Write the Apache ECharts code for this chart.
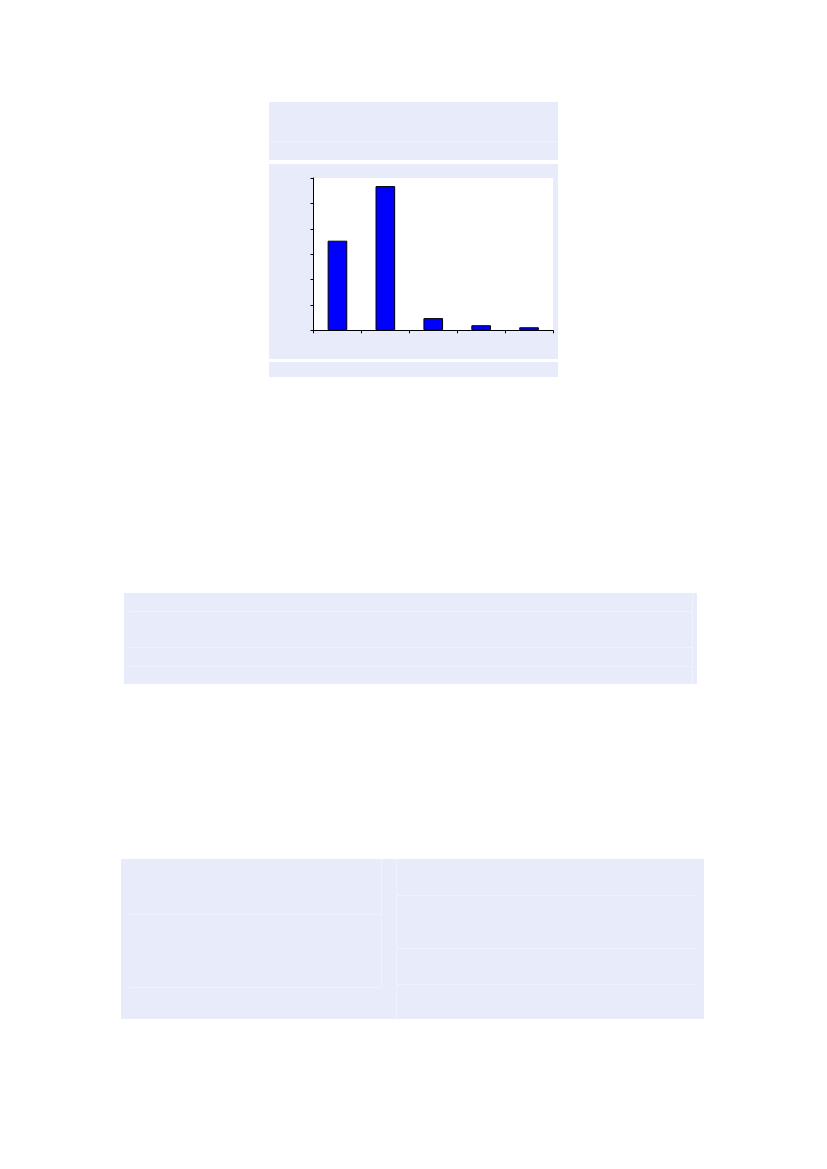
<!DOCTYPE html>
<html>
<head>
<meta charset="utf-8">
<script src="https://cdn.jsdelivr.net/npm/echarts@6/dist/echarts.min.js"></script>
<style>
html,body{margin:0;padding:0;background:#fff;}
#c{width:827px;height:1169px;}
</style>
</head>
<body>
<div id="c"></div>
<script>
// Data (no visible labels in the reference)
const categories = ['1', '2', '3', '4', '5'];
const values = [35.3, 56.8, 4.8, 2.0, 1.2];
const yTicks = [0, 10, 20, 30, 40, 50, 60];

const FILL = '#E8EBF9';
const LINE = '#EFF1FC';

function rect(x, y, w, h) {
  return { type: 'rect', shape: { x: x, y: y, width: w, height: h }, style: { fill: FILL }, z: -10, silent: true };
}
function line(x1, y1, x2, y2) {
  return { type: 'line', shape: { x1: x1, y1: y1, x2: x2, y2: y2 }, style: { stroke: LINE, lineWidth: 1 }, z: -9, silent: true };
}

const chart = echarts.init(document.getElementById('c'), null, { renderer: 'canvas' });
chart.setOption({
  animation: false,
  backgroundColor: '#ffffff',
  graphic: [
    rect(269, 102, 289, 58),
    line(269, 141.5, 558, 141.5),
    rect(269, 164, 289, 195),
    rect(269, 362, 289, 15),
    rect(124, 593, 573, 91),
    line(130, 611.5, 692, 611.5),
    line(130, 647.5, 692, 647.5),
    line(130, 666.5, 692, 666.5),
    line(692.5, 593, 692.5, 684),
    rect(121, 859, 583, 160),
    line(396.5, 859, 396.5, 1019),
    line(381.5, 859, 381.5, 987),
    line(130, 914.5, 381, 914.5),
    line(130, 987.5, 381, 987.5),
    line(397, 895.5, 697, 895.5),
    line(397, 948.5, 697, 948.5),
    line(397, 984.5, 697, 984.5)
  ],
  grid: {
    left: 313.5, top: 178, width: 239.5, height: 152.3,
    show: true, backgroundColor: '#ffffff', borderWidth: 0
  },
  xAxis: {
    type: 'category',
    data: categories,
    boundaryGap: true,
    axisLine: { show: true, lineStyle: { color: '#000', width: 1 } },
    axisTick: { show: true, length: 3, interval: 0, lineStyle: { color: '#000' } },
    axisLabel: { show: false },
    splitLine: { show: false }
  },
  yAxis: {
    type: 'value',
    min: yTicks[0],
    max: yTicks[yTicks.length - 1],
    interval: yTicks[1] - yTicks[0],
    axisLine: { show: true, lineStyle: { color: '#000', width: 1 } },
    axisTick: { show: true, length: 3, lineStyle: { color: '#000' } },
    axisLabel: { show: false },
    splitLine: { show: false }
  },
  series: [{
    type: 'bar',
    data: values,
    barWidth: '41%',
    itemStyle: { color: '#0000FF', borderColor: '#000', borderWidth: 1 }
  }]
});
</script>
</body>
</html>
